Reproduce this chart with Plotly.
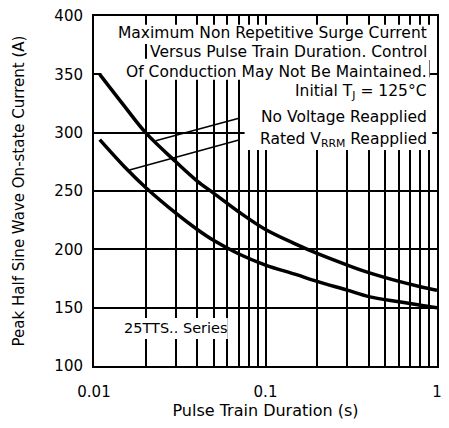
import plotly.graph_objects as go

# ---- data ----
duration = [0.0108, 0.015, 0.02, 0.03, 0.04, 0.05, 0.07, 0.1, 0.15, 0.2, 0.3, 0.4, 0.6, 0.8, 1.0]
no_voltage = [350, 323, 300, 275, 258.5, 248, 232, 217, 204.5, 196.5, 186.5, 180, 172.5, 168, 165]
rated_vrrm = [294, 271, 253, 231, 217, 207.5, 196, 186.5, 178.5, 172.5, 165, 159.5, 155, 152, 150]

leader_nv_x = [0.0229, 0.0708]
leader_nv_y = [293, 312.6]
leader_rv_x = [0.0161, 0.0708]
leader_rv_y = [268, 294]

x_ticks = [0.01, 0.02, 0.03, 0.04, 0.05, 0.06, 0.07, 0.08, 0.09,
           0.1, 0.2, 0.3, 0.4, 0.5, 0.6, 0.7, 0.8, 0.9, 1.0]
x_labels = ["0.01", "", "", "", "", "", "", "", "",
            "0.1", "", "", "", "", "", "", "", "", "1"]
y_ticks = [100, 150, 200, 250, 300, 350, 400]

FONT = "DejaVu Sans"

fig = go.Figure()
for ys in (no_voltage, rated_vrrm):
    fig.add_trace(go.Scatter(x=duration, y=ys, mode="lines",
                             line=dict(color="black", width=3.5, shape="spline"),
                             showlegend=False, hoverinfo="skip"))
for lx, ly in ((leader_nv_x, leader_nv_y), (leader_rv_x, leader_rv_y)):
    fig.add_trace(go.Scatter(x=lx, y=ly, mode="lines",
                             line=dict(color="black", width=1.5),
                             showlegend=False, hoverinfo="skip"))

# white backgrounds behind the text blocks (hide gridlines, below traces)
# given as fractions of the plot area, converted to axis values
boxes = [
    (0.019, 0.986, 0.920, 0.975),
    (0.165, 0.986, 0.874, 0.923),
    (0.021, 0.978, 0.818, 0.878),
    (0.439, 0.986, 0.617, 0.825),
    (0.075, 0.390, 0.077, 0.137),
]
def fx(f):
    return 10 ** (-2 + 2 * f)
def fy(f):
    return 100 + 300 * f
for x0, x1, y0, y1 in boxes:
    fig.add_shape(type="rect", xref="x", yref="y",
                  x0=fx(x0), x1=fx(x1), y0=fy(y0), y1=fy(y1), layer="between",
                  fillcolor="white", line=dict(width=0))

texts = [
    ("Maximum Non Repetitive Surge Current", 0.951),
    ("Versus Pulse Train Duration. Control", 0.898),
    ("Of Conduction May Not Be Maintained.", 0.841),
    ("Initial T<sub>J</sub> = 125°C", 0.784),
    ("No Voltage Reapplied", 0.712),
    ("Rated V<sub>RRM</sub> Reapplied", 0.646),
]
for t, yy in texts:
    fig.add_annotation(text=t, xref="x domain", yref="y domain", x=0.977, y=yy,
                       xanchor="right", yanchor="middle", showarrow=False,
                       font=dict(family=FONT, size=15.5, color="black"))
fig.add_annotation(text="25TTS.. Series", xref="x domain", yref="y domain",
                   x=0.083, y=0.108, xanchor="left", yanchor="middle",
                   showarrow=False, font=dict(family=FONT, size=14.5, color="black"))

# the page body has an 8px margin; the figure is sized to fit inside it
fig.update_layout(
    width=433, height=412,
    margin=dict(l=86, r=4, t=8, b=54, autoexpand=False),
    paper_bgcolor="white", plot_bgcolor="white",
    font=dict(family=FONT, size=15, color="black"),
    xaxis=dict(type="log", range=[-2, 0], tickvals=x_ticks, ticktext=x_labels,
               showgrid=True, gridcolor="black", gridwidth=2,
               showline=True, linecolor="black", linewidth=2, mirror=True,
               ticks="", ticklabelstandoff=11, automargin=False,
               ticklabeloverflow="allow",
               title=dict(text="Pulse Train Duration (s)", standoff=17,
                          font=dict(family=FONT, size=16))),
    yaxis=dict(range=[100, 400], tickvals=y_ticks,
               showgrid=True, gridcolor="black", gridwidth=2,
               showline=True, linecolor="black", linewidth=2, mirror=True,
               ticks="", ticklabelstandoff=6, zeroline=False, automargin=False,
               ticklabeloverflow="allow",
               title=dict(text="Peak Half Sine Wave On-state Current (A)", standoff=26,
                          font=dict(family=FONT, size=15))),
)

fig.write_html("out.html")
